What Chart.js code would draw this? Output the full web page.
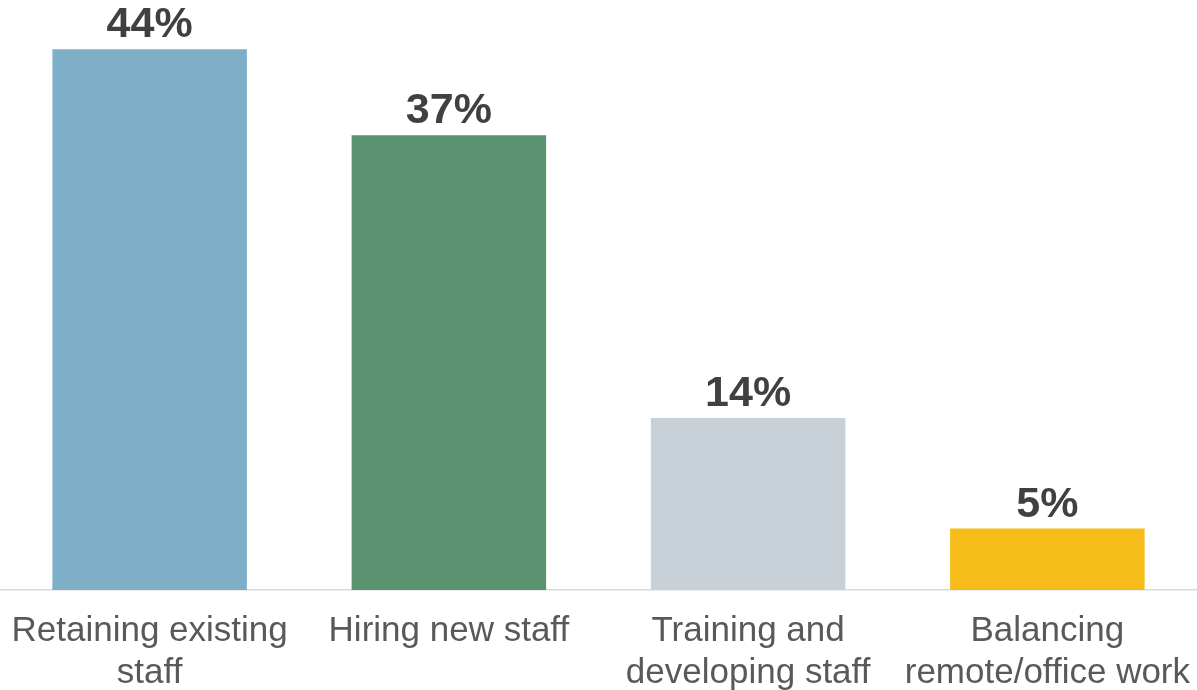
<!DOCTYPE html>
<html>
<head>
<meta charset="utf-8">
<script src="https://cdn.jsdelivr.net/npm/chart.js@4/dist/chart.umd.min.js"></script>
<style>
  html, body { margin: 0; padding: 0; background: #ffffff; }
  #wrap { width: 1197px; height: 690px; }
</style>
</head>
<body>
<div id="wrap"><canvas id="chart" width="1197" height="690"></canvas></div>
<script>
// Share of respondents naming each area as their top staffing challenge
const categories = [
  ["Retaining existing", "staff"],
  ["Hiring new staff"],
  ["Training and", "developing staff"],
  ["Balancing", "remote/office work"]
];
const values = [44, 37, 14, 5];
const barColors = ["#7FAFC7", "#5B9270", "#C9D1D8", "#F6BD1A"];

// Writes the percentage above each bar
const valueLabels = {
  id: "valueLabels",
  afterDatasetsDraw(chart) {
    const ctx = chart.ctx;
    const meta = chart.getDatasetMeta(0);
    ctx.save();
    ctx.font = "bold 43px 'Liberation Sans', Arial, sans-serif";
    ctx.fillStyle = "#404040";
    ctx.textAlign = "center";
    ctx.textBaseline = "alphabetic";
    meta.data.forEach((bar, i) => {
      ctx.fillText(values[i] + "%", bar.x, bar.y - 12);
    });
    ctx.restore();
  }
};

new Chart(document.getElementById("chart"), {
  type: "bar",
  data: {
    labels: categories,
    datasets: [{
      data: values,
      backgroundColor: barColors,
      borderWidth: 0,
      categoryPercentage: 1.0,
      barPercentage: 0.65
    }]
  },
  options: {
    responsive: false,
    animation: false,
    layout: { padding: 0 },
    plugins: {
      legend: { display: false },
      tooltip: { enabled: false }
    },
    scales: {
      x: {
        offset: true,
        grid: { display: false, drawTicks: false },
        border: { display: true, color: "#D9D9D9", width: 1.5 },
        ticks: {
          padding: 20,
          color: "#595959",
          maxRotation: 0,
          autoSkip: false,
          font: { family: "'Liberation Sans', Arial, sans-serif", size: 35, lineHeight: 42 / 35 }
        },
        // fixed label band under the bars, full-width plot
        afterFit(scale) {
          scale.height = 100;
          scale.paddingLeft = 0;
          scale.paddingRight = 0;
        }
      },
      y: {
        display: false,
        min: 0,
        max: 48
      }
    }
  },
  plugins: [valueLabels]
});
</script>
</body>
</html>
